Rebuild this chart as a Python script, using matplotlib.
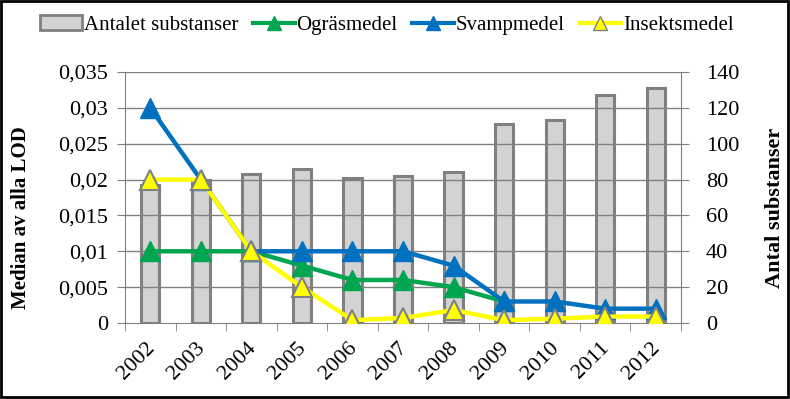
import numpy as np
import matplotlib.pyplot as plt
import matplotlib.transforms as mtransforms
from matplotlib.patches import Rectangle, Patch
from matplotlib.ticker import FuncFormatter, MultipleLocator
from matplotlib.lines import Line2D

plt.rcParams['font.family'] = ['Liberation Serif', 'DejaVu Serif']

years = ['2002', '2003', '2004', '2005', '2006', '2007', '2008', '2009', '2010', '2011', '2012']
antal = [77, 80, 83, 86, 81, 82, 84, 111, 113, 127, 131]
ograsmedel = [0.01, 0.01, 0.01, 0.008, 0.006, 0.006, 0.005, 0.003, np.nan, np.nan, np.nan]
svampmedel = [0.03, 0.02, 0.01, 0.01, 0.01, 0.01, 0.008, 0.003, 0.003, 0.002, 0.002]
insektsmedel = [0.02, 0.02, 0.01, 0.005, 0.0004, 0.0007, 0.0018, 0.0004, 0.0006, 0.0009, 0.0009]

fig = plt.figure(figsize=(7.9, 3.99), dpi=100)
ax = fig.add_axes([125 / 790, 1 - 323 / 399, (681 - 125) / 790, (323 - 72) / 399])
ax2 = ax.twinx()

x = np.arange(len(years))

# bars on the right axis, drawn below the lines
ax2.bar(x, antal, width=0.36, color='#d3d3d3', edgecolor='#808080', linewidth=2.2, zorder=2)
ax2.set_ylim(0, 140)
ax2.yaxis.set_major_locator(MultipleLocator(20))

ax.set_zorder(ax2.get_zorder() + 1)
ax.patch.set_visible(False)

ax.plot(x, ograsmedel, color='#00a550', lw=3.2, marker='^', ms=14,
        mfc='#00a550', mec='#00a550', zorder=3)
ax.plot(x, svampmedel, color='#0070c0', lw=3.2, marker='^', ms=14,
        mfc='#0070c0', mec='#0070c0', zorder=4)
ax.plot(x, insektsmedel, color='#ffff00', lw=3.2, marker='^', ms=14,
        mfc='#ffff00', mec='#808080', mew=1.5, zorder=5)

ax.set_ylim(0, 0.035)
ax.set_xlim(-0.5, len(years) - 0.5)
ax.yaxis.set_major_locator(MultipleLocator(0.005))
ax.yaxis.set_major_formatter(FuncFormatter(
    lambda v, p: '0' if abs(v) < 1e-9 else ('%g' % round(v, 4)).replace('.', ',')))

for a in (ax, ax2):
    for s in a.spines.values():
        s.set_visible(False)
ax.spines['left'].set_visible(True)
ax.spines['left'].set_color('#808080')
ax.spines['bottom'].set_visible(True)
ax.spines['bottom'].set_color('#808080')
ax2.spines['right'].set_visible(True)
ax2.spines['right'].set_color('#808080')

# horizontal gridlines
for v in np.arange(0.005, 0.0351, 0.005):
    ax.axhline(v, color='#808080', lw=1, zorder=1)

ax.set_xticks(x)
ax.set_xticklabels(years, rotation=45, ha='right', rotation_mode='anchor')
ax.set_xticks(np.arange(-0.5, len(years), 1), minor=True)
ax.tick_params(axis='x', which='major', length=0, labelsize=16, pad=11)
ax.tick_params(axis='x', which='minor', length=6, color='#808080', direction='out')
ax.tick_params(axis='y', length=6, color='#808080', labelsize=16, pad=6)
ax2.tick_params(axis='y', length=6, color='#808080', labelsize=16, pad=12)
shift = mtransforms.ScaledTranslation(-0.05, 0, fig.dpi_scale_trans)
for lbl in ax.get_xticklabels():
    lbl.set_transform(lbl.get_transform() + shift)

ax.set_ylabel('Median av alla LOD', fontsize=15, fontweight='bold')
ax.yaxis.set_label_coords(-(125 - 31) / 556, (323 - 218) / 251)
ax2.set_ylabel('Antal substanser', fontsize=16, fontweight='bold', rotation=90)
ax2.yaxis.set_label_coords((765 - 125) / 556, (323 - 208) / 251)

handles = [
    Patch(facecolor='#d3d3d3', edgecolor='#808080', linewidth=2),
    Line2D([], [], color='#00a550', lw=3, marker='^', ms=10, mfc='#00a550', mec='#00a550'),
    Line2D([], [], color='#0070c0', lw=3, marker='^', ms=10, mfc='#0070c0', mec='#0070c0'),
    Line2D([], [], color='#ffff00', lw=3, marker='^', ms=10, mfc='#ffff00', mec='#808080'),
]
fig.legend(handles, ['Antalet substanser', 'Ogräsmedel', 'Svampmedel', 'Insektsmedel'],
           loc='center', bbox_to_anchor=(387 / 790, 1 - 25 / 399), ncol=4, frameon=False,
           fontsize=15, handlelength=2.0, handletextpad=0.1, columnspacing=0.7)

fig.patches.append(Rectangle((0.001, 0.004), 0.997, 0.994, transform=fig.transFigure,
                             fill=False, edgecolor='black', linewidth=2))

fig.savefig('out.png', dpi=100)
